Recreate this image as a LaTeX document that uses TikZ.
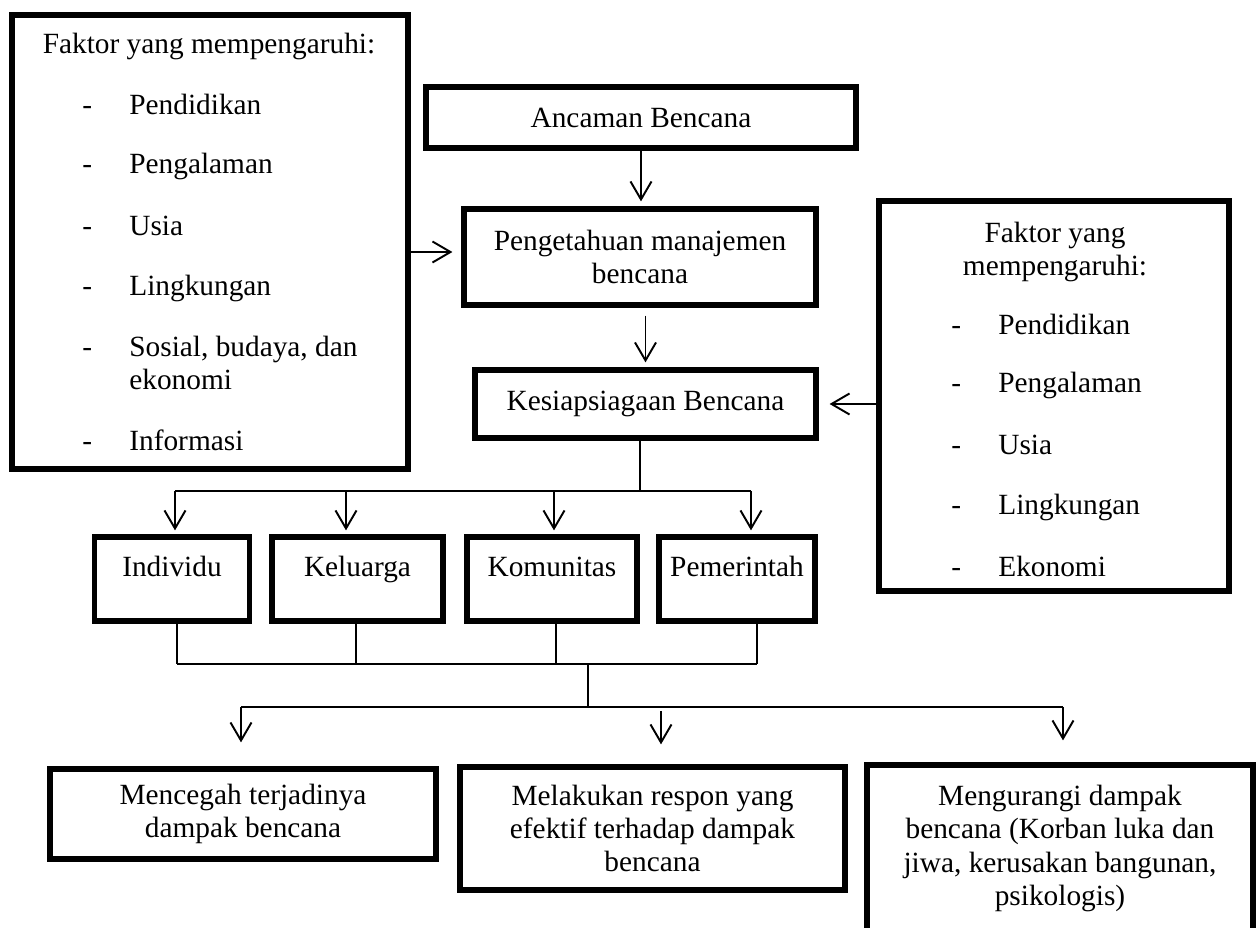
\documentclass[tikz,border=0pt]{standalone}
\usepackage{fontspec}
\setmainfont{Liberation Serif}
\usetikzlibrary{arrows.meta}

\tikzset{
  box/.style={draw, line width=3pt, inner sep=0pt, align=center},
  unit/.style={box, minimum width=#1, text height=0.8cm, text depth=0.88cm},
  item/.style={anchor=base west, inner sep=0pt},
  link/.style={line width=1.1pt},
  arr/.style={link, -{Straight Barb[length=0.36cm, width=0.42cm]}},
}

\begin{document}
\begin{tikzpicture}[x=0.02cm, y=-0.02cm, font=\fontsize{16.7}{18.8}\selectfont]
\path[use as bounding box, fill=white] (0,0) rectangle (1259,928);

% factor boxes
\node[box, minimum width=7.92cm, minimum height=9.08cm] (faktorL) at (210,242) {};
\node[anchor=base, inner sep=0pt] (faktorL-title) at (209,54) {Faktor yang mempengaruhi:};
\foreach \y/\t [count=\i] in {115/Pendidikan, 174/Pengalaman, 236/Usia, 296/Lingkungan, 357/{Sosial, budaya, dan}, 451/Informasi} {
  \node[item] (faktorL-dash-\i) at (82,\y) {-};
  \node[item] (faktorL-item-\i) at (129,\y) {\t};
}
\node[item] (faktorL-item-5b) at (129,390) {ekonomi};

\node[box, minimum width=7cm, minimum height=7.8cm] (faktorR) at (1054,396) {};
\node[align=center, inner sep=0pt] (faktorR-title) at (1055,252) {Faktor yang\\mempengaruhi:};
\foreach \y/\t [count=\i] in {335/Pendidikan, 393/Pengalaman, 455/Usia, 515/Lingkungan, 577/Ekonomi} {
  \node[item] (faktorR-dash-\i) at (951,\y) {-};
  \node[item] (faktorR-item-\i) at (998,\y) {\t};
}

% main chain
\node[box, minimum width=8.6cm, minimum height=1.22cm] (ancaman) at (641,117.5) {Ancaman Bencana};
\node[box, minimum width=7.04cm, minimum height=1.92cm] (pengetahuan) at (640,257) {Pengetahuan manajemen\\bencana};
\node[box, minimum width=6.82cm, minimum height=1.36cm] (kesiap) at (645.5,404) {Kesiapsiagaan Bencana};

\draw[arr, shorten >=0.1cm] (ancaman.south) -- (ancaman.south |- pengetahuan.north);
\draw[arr, shorten <=0.16cm, shorten >=0.1cm] (kesiap.north |- pengetahuan.south) -- (kesiap.north);
\coordinate (inL) at ([yshift=0.1cm]pengetahuan.west);
\draw[arr, shorten >=0.18cm] (faktorL.east |- inL) -- (inL);
\draw[arr, shorten >=0.22cm] (faktorR.west |- kesiap.east) -- (kesiap.east);

% actors
\node[unit=3.1cm] (individu) at (172,579) {Individu};
\node[unit=3.42cm] (keluarga) at (357.5,579) {Keluarga};
\node[unit=3.4cm] (komunitas) at (552,579) {Komunitas};
\node[unit=3.12cm] (pemerintah) at (737,579) {Pemerintah};

\coordinate (busA) at (640,491);
\draw[link] (kesiap.south -| busA) -- (busA);
\foreach \x/\n in {175/individu, 346/keluarga, 554/komunitas, 751/pemerintah} {
  \coordinate (top-\n) at (\x,491);
  \draw[arr, shorten >=0.08cm] (top-\n) -- (top-\n |- \n.north);
}
\draw[link] (top-individu) -- (top-pemerintah);

\foreach \x/\n in {177/individu, 356/keluarga, 556/komunitas, 757/pemerintah} {
  \coordinate (bot-\n) at (\x,664);
  \draw[link] (bot-\n |- \n.south) -- (bot-\n);
}
\draw[link] (bot-individu) -- (bot-pemerintah);

% outcomes
\node[box, minimum width=7.72cm, minimum height=1.8cm] (mencegah) at (243,814) {Mencegah terjadinya\\dampak bencana};
\node[box, minimum width=7.7cm, minimum height=2.46cm] (melakukan) at (652.5,828.5) {Melakukan respon yang\\efektif terhadap dampak\\bencana};
\node[box, minimum width=7.72cm, minimum height=3.34cm] (mengurangi) at (1060,848.5) {Mengurangi dampak\\bencana (Korban luka dan\\jiwa, kerusakan bangunan,\\psikologis)};

\coordinate (busB) at (588,664);
\coordinate (busC) at (588,707);
\draw[link] (busB) -- (busC);
\coordinate (outL) at (241,707);
\coordinate (outR) at (1063,707);
\coordinate (outM) at (661,711);
\draw[link] (outL) -- (outR);
\draw[arr, shorten >=0.48cm] (outL) -- (outL |- mencegah.north);
\draw[arr, shorten >=0.4cm] (outM) -- (outM |- melakukan.north);
\draw[arr, shorten >=0.44cm] (outR) -- (outR |- mengurangi.north);
\end{tikzpicture}
\end{document}
